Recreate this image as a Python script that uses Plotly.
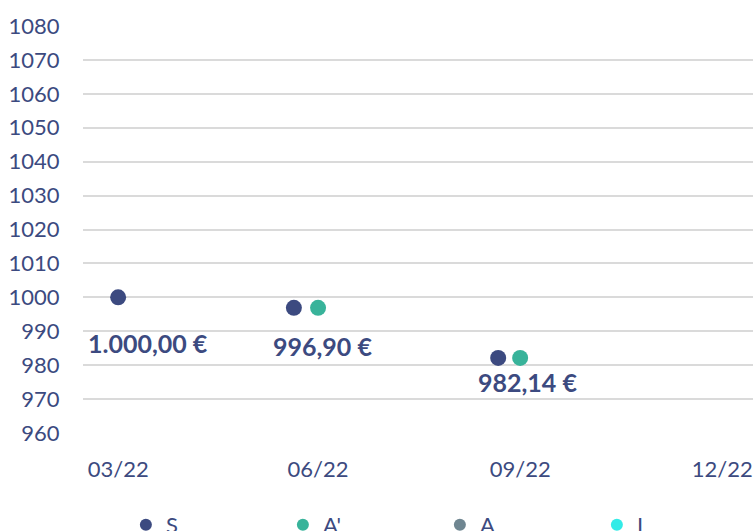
import plotly.graph_objects as go

# ---- data ----
s_dates = ["2022-03-31", "2022-06-19", "2022-09-20"]
s_values = [1000.00, 996.90, 982.14]
a1_dates = ["2022-06-30", "2022-09-30"]
a1_values = [996.90, 982.14]
a_dates = [None]
a_values = [None]
i_dates = [None]
i_values = [None]

label_dates = ["2022-03-31", "2022-06-30", "2022-09-30"]
label_values = [1000.00, 996.90, 982.14]
label_texts = ["1.000,00 €", "996,90 €", "982,14 €"]

tick_dates = ["2022-03-31", "2022-06-30", "2022-09-30", "2022-12-31"]
tick_labels = ["03/22", "06/22", "09/22", "12/22"]

NAVY = "#3c4a80"
FONT = "Lato"

series = [
    ("S", s_dates, s_values, "#3c4a80"),
    ("A'", a1_dates, a1_values, "#38b39a"),
    ("A", a_dates, a_values, "#6f8691"),
    ("I", i_dates, i_values, "#33ebe7"),
]

fig = go.Figure()
for name, xs, ys, col in series:
    fig.add_trace(go.Scatter(
        x=xs, y=ys, name=name, mode="markers",
        marker=dict(size=16, color=col),
    ))

label_shifts = [(30, -46), (4, -38), (7, -24)]
for (d, v, t), (dx, dy) in zip(zip(label_dates, label_values, label_texts), label_shifts):
    fig.add_annotation(
        x=d, y=v, text=f"<b>{t}</b>", showarrow=False,
        xshift=dx, yshift=dy,
        font=dict(family=FONT, size=25, color=NAVY, weight=900),
    )

fig.update_layout(
    width=753, height=531,
    margin=dict(l=83, r=0, t=26, b=98, autoexpand=False),
    paper_bgcolor="white", plot_bgcolor="white",
    font=dict(family=FONT, size=22, color=NAVY),
    showlegend=True,
    legend=dict(
        orientation="h", x=0.064, xanchor="left", y=-0.226, yanchor="middle",
        entrywidth=112, itemsizing="constant",
        font=dict(family=FONT, size=22, color=NAVY),
    ),
    xaxis=dict(
        type="date", range=["2022-03-15", "2023-01-14"], automargin=False,
        tickmode="array", tickvals=tick_dates, ticktext=tick_labels,
        ticklabeloverflow="allow",
        showgrid=False, showline=False, zeroline=False,
        ticks="outside", ticklen=17, tickcolor="rgba(0,0,0,0)",
        tickfont=dict(family=FONT, size=22, color=NAVY),
    ),
    yaxis=dict(
        range=[960, 1080], dtick=10, tick0=960, automargin=False,
        showgrid=True, gridcolor="#dadada", gridwidth=2,
        showline=False, zeroline=False,
        ticks="outside", ticklen=18, tickcolor="rgba(0,0,0,0)",
        tickfont=dict(family=FONT, size=22, color=NAVY),
    ),
)

fig.write_html(
    "out.html",
    config={"displayModeBar": False},
    post_script="document.body.style.margin='0';document.body.style.overflow='hidden';",
)
